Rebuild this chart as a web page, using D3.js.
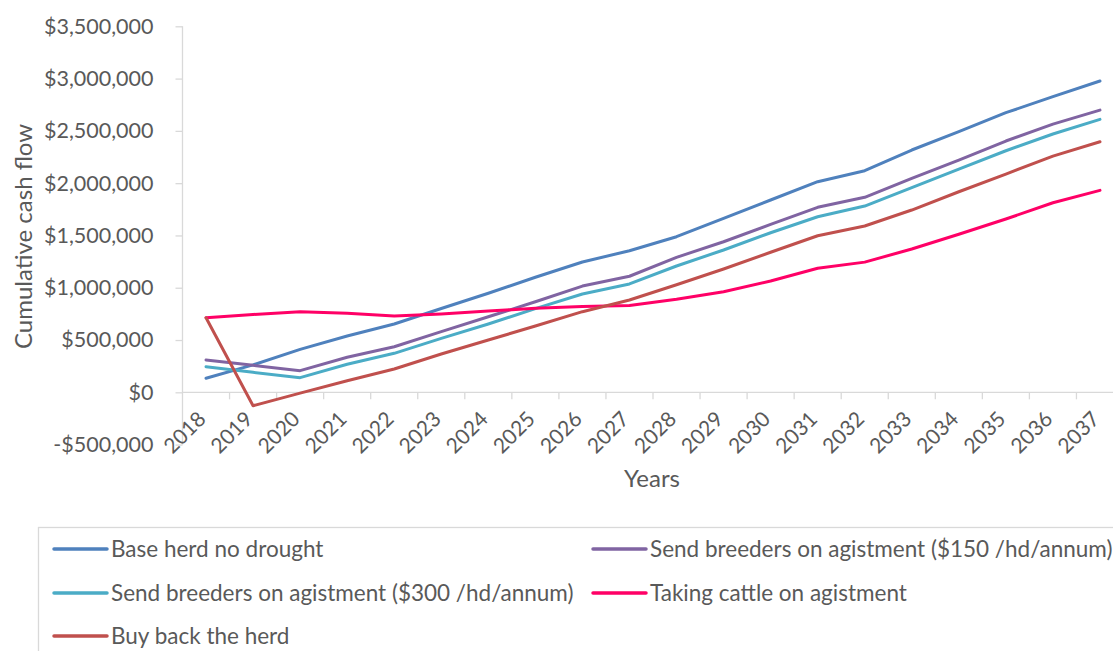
<!DOCTYPE html>
<html>
<head>
<meta charset="utf-8">
<script src="https://cdn.jsdelivr.net/npm/d3@7"></script>
<style>
        body { margin: 0; background: #ffffff; }
        svg { display: block; font-family: Lato, sans-serif; }
</style>
</head>
<body>
<svg id="chart" width="1113" height="651"></svg>
<script>
// cumulative cash flow per drought strategy
const years = [2018, 2019, 2020, 2021, 2022, 2023, 2024, 2025, 2026, 2027,
        2028, 2029, 2030, 2031, 2032, 2033, 2034, 2035, 2036, 2037];

const baseHerd = [134000, 262000, 411000, 538000, 653000, 801000, 947000, 1100000, 1246000, 1354000,
        1488000, 1664000, 1839000, 2014000, 2119000, 2317000, 2492000, 2674000, 2827000, 2977000];
const agist150 = [309000, 258000, 207000, 335000, 436000, 580000, 723000, 866000, 1016000, 1110000,
        1291000, 1440000, 1606000, 1769000, 1865000, 2046000, 2221000, 2403000, 2565000, 2699000];
const agist300 = [245000, 191000, 140000, 268000, 373000, 516000, 653000, 800000, 940000, 1036000,
        1208000, 1361000, 1526000, 1679000, 1781000, 1957000, 2135000, 2310000, 2470000, 2610000];
const takingCattle = [713000, 744000, 771000, 755000, 730000, 749000, 777000, 803000, 820000, 830000,
        889000, 962000, 1064000, 1186000, 1245000, 1370000, 1511000, 1657000, 1813000, 1931000];
const buyBack = [713000, -128000, -8000, 111000, 223000, 366000, 500000, 634000, 771000, 883000,
        1029000, 1179000, 1339000, 1497000, 1590000, 1743000, 1918000, 2087000, 2259000, 2396000];

const seriesNames = ["Base herd no drought",
        "Send breeders on agistment ($150 /hd/annum)",
        "Send breeders on agistment ($300 /hd/annum)",
        "Taking cattle on agistment",
        "Buy back the herd"];
const seriesValues = [baseHerd, agist150, agist300, takingCattle, buyBack];
const seriesColours = ["#4f81bd", "#8064a2", "#4bacc6", "#ff0066", "#c0504d"];

const yTicks = [-500000, 0, 500000, 1000000, 1500000, 2000000, 2500000, 3000000, 3500000];

class cashFlowChart {

        constructor(svg) {
                // constant parameters
                this.left = 182.5;
                this.top = 26.3;
                this.bottom = 444.6;
                this.step = 47.05;
                this.axisColour = "#d9d9d9";
                this.textColour = "#595959";

                this.svg = svg;
                this.x = d3.scaleBand()
                        .domain(years)
                        .range([this.left, this.left + years.length * this.step]);
                this.y = d3.scaleLinear()
                        .domain([yTicks[0], yTicks[yTicks.length - 1]])
                        .range([this.bottom, this.top]);

                this.drawAxes();
                this.drawLines();
                this.drawLegend();
        }

        money(v) {
                const f = d3.format(",");
                return v < 0 ? "-$" + f(-v) : "$" + f(v);
        }

        drawAxes() {
                const zero = this.y(0);

                // y axis: line, outside ticks and dollar labels
                const yAxis = d3.axisLeft(this.y)
                        .tickValues(yTicks)
                        .tickSize(7)
                        .tickPadding(22)
                        .tickFormat(d => this.money(d));
                const gy = this.svg.append("g")
                        .attr("transform", "translate(" + this.left + ",0)")
                        .call(yAxis);
                gy.select(".domain").remove();
                gy.selectAll(".tick line")
                        .attr("stroke", this.axisColour)
                        .attr("stroke-width", 1.3);
                gy.selectAll(".tick text")
                        .attr("fill", this.textColour)
                        .attr("font-family", "Lato, sans-serif")
                        .attr("font-size", "21.5px");
                this.svg.append("line")
                        .attr("x1", this.left).attr("x2", this.left)
                        .attr("y1", this.top).attr("y2", this.bottom)
                        .attr("stroke", this.axisColour)
                        .attr("stroke-width", 1.3);

                // x axis sits at zero, ticks fall between the categories
                const right = this.x.range()[1];
                this.svg.append("line")
                        .attr("x1", this.left).attr("x2", right)
                        .attr("y1", zero).attr("y2", zero)
                        .attr("stroke", this.axisColour)
                        .attr("stroke-width", 1.3);
                this.svg.append("g").selectAll("line")
                        .data(years.slice(1))
                        .join("line")
                        .attr("x1", d => this.x(d)).attr("x2", d => this.x(d))
                        .attr("y1", zero).attr("y2", zero + 7)
                        .attr("stroke", this.axisColour)
                        .attr("stroke-width", 1.3);
                this.svg.append("g").selectAll("text")
                        .data(years)
                        .join("text")
                        .attr("transform", d => "translate(" + (this.x(d) + this.x.bandwidth() / 2 + 1) + "," + (zero + 28) + ") rotate(-45)")
                        .attr("text-anchor", "end")
                        .attr("fill", this.textColour)
                        .attr("font-size", "21px")
                        .text(d => d);

                // axis titles
                this.svg.append("text")
                        .attr("x", 652)
                        .attr("y", 487)
                        .attr("text-anchor", "middle")
                        .attr("fill", this.textColour)
                        .attr("font-size", "24px")
                        .text("Years");
                this.svg.append("text")
                        .attr("transform", "translate(32,236.5) rotate(-90)")
                        .attr("text-anchor", "middle")
                        .attr("fill", this.textColour)
                        .attr("font-size", "24px")
                        .text("Cumulative cash flow");
        }

        drawLines() {
                const line = d3.line()
                        .x((d, i) => this.x(years[i]) + this.x.bandwidth() / 2)
                        .y(d => this.y(d));
                seriesValues.forEach((vals, i) => {
                        this.svg.append("path")
                                .attr("d", line(vals))
                                .attr("fill", "none")
                                .attr("stroke", seriesColours[i])
                                .attr("stroke-width", 3)
                                .attr("stroke-linejoin", "round")
                                .attr("stroke-linecap", "round");
                });
        }

        drawLegend() {
                this.svg.append("rect")
                        .attr("x", 38.5)
                        .attr("y", 527.5)
                        .attr("width", 1100)
                        .attr("height", 150)
                        .attr("fill", "none")
                        .attr("stroke", this.axisColour)
                        .attr("stroke-width", 1.3);

                const colX = [54, 593];
                const rowY = [549, 593, 636];
                seriesNames.forEach((name, i) => {
                        const lx = colX[i % 2];
                        const ly = rowY[Math.floor(i / 2)];
                        this.svg.append("line")
                                .attr("x1", lx).attr("x2", lx + 53)
                                .attr("y1", ly).attr("y2", ly)
                                .attr("stroke", seriesColours[i])
                                .attr("stroke-width", 3.5)
                                .attr("stroke-linecap", "round");
                        this.svg.append("text")
                                .attr("x", lx + 57)
                                .attr("y", ly)
                                .attr("dy", "0.35em")
                                .attr("fill", this.textColour)
                                .attr("font-size", "22.5px")
                                .text(name);
                });
        }
}

new cashFlowChart(d3.select("#chart"));
</script>
</body>
</html>
